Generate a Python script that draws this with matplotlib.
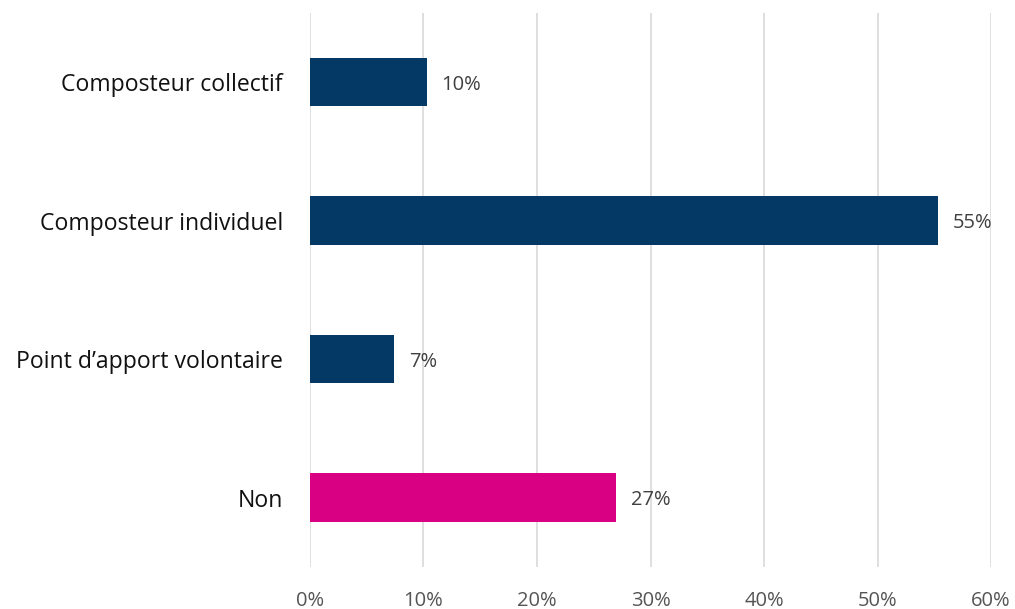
import matplotlib.pyplot as plt
from matplotlib.ticker import PercentFormatter

categories = ['Composteur collectif', 'Composteur individuel',
              "Point d\u2019apport volontaire", 'Non']
values = [10.3, 55.3, 7.4, 27.0]
labels = ['10%', '55%', '7%', '27%']
colors = ['#043865', '#043865', '#043865', '#D90083']
xticks = [0, 10, 20, 30, 40, 50, 60]

plt.rcParams['font.family'] = ['Open Sans', 'DejaVu Sans']

fig = plt.figure(figsize=(10.15, 6.09), dpi=100)
ax = fig.add_axes([0.3054, 0.069, 0.9764 - 0.3054, 0.9787 - 0.069])

ypos = range(len(categories))
ax.barh(ypos, values, height=0.35, color=colors, zorder=3)
for y, v, lab in zip(ypos, values, labels):
    ax.text(v + 1.3, y, lab, va='center_baseline', ha='left', fontsize=14.5, color='#404040')

ax.set_yticks(list(ypos))
ax.set_yticklabels(categories, fontsize=16.6, color='#111111')
ax.set_ylim(3.5, -0.5)
ax.set_xlim(0, 60)
ax.set_xticks(xticks)
ax.xaxis.set_major_formatter(PercentFormatter(decimals=0))
ax.tick_params(axis='x', labelsize=14.5, labelcolor='#555555', length=0, pad=17)
ax.tick_params(axis='y', length=0, pad=19.5)
ax.grid(axis='x', color='#d9d9d9', linewidth=1.2, zorder=0)
for s in ax.spines.values():
    s.set_visible(False)

fig.savefig('out.png', dpi=100)
